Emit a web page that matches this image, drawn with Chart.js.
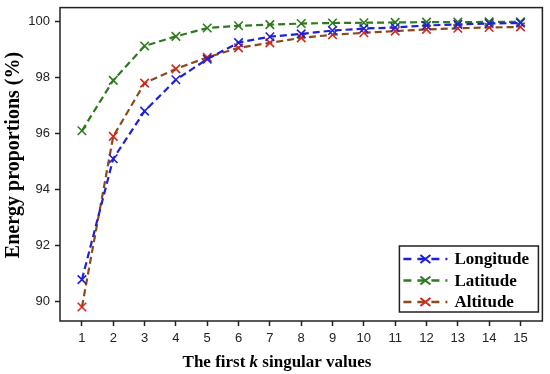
<!DOCTYPE html>
<html>
<head>
<meta charset="utf-8">
<script src="https://cdn.jsdelivr.net/npm/chart.js@4"></script>
<style>
  html, body { margin: 0; padding: 0; background: #fff; }
  #wrap { width: 550px; height: 374px; }
</style>
</head>
<body>
<div id="wrap"><canvas id="energy"></canvas></div>
<script>
var k = [1, 2, 3, 4, 5, 6, 7, 8, 9, 10, 11, 12, 13, 14, 15];

var longitude = [90.78, 95.1, 96.8, 97.92, 98.66, 99.25, 99.46, 99.56, 99.68, 99.75, 99.79, 99.86, 99.9, 99.93, 99.95];
var latitude  = [96.1, 97.9, 99.13, 99.47, 99.77, 99.85, 99.89, 99.93, 99.95, 99.96, 99.97, 99.98, 99.98, 99.99, 99.99];
var altitude  = [89.8, 95.9, 97.8, 98.31, 98.72, 99.06, 99.24, 99.42, 99.53, 99.6, 99.66, 99.72, 99.76, 99.79, 99.81];

var yTicks = [90, 92, 94, 96, 98, 100];

function pts(vals) {
  return k.map(function (x, i) { return { x: x, y: vals[i] }; });
}

var serif = "'Liberation Serif', 'Times New Roman', serif";
var sans = "'Liberation Sans', Arial, sans-serif";

// frame + axis titles + legend box drawn on top
var extras = {
  id: 'extras',
  afterDraw: function (chart) {
    var c = chart.ctx, a = chart.chartArea;
    c.save();
    c.strokeStyle = '#222';
    c.lineWidth = 1.5;
    c.strokeRect(a.left, a.top, a.right - a.left, a.bottom - a.top);

    // x title with italic k
    var parts = [['The first ', 'bold 17px ' + serif], ['k', 'italic bold 17px ' + serif], [' singular values', 'bold 17px ' + serif]];
    var w = 0;
    parts.forEach(function (p) { c.font = p[1]; w += c.measureText(p[0]).width; });
    var x = 277 - w / 2;
    c.fillStyle = '#000';
    c.textBaseline = 'middle';
    c.textAlign = 'left';
    parts.forEach(function (p) { c.font = p[1]; c.fillText(p[0], x, 363); x += c.measureText(p[0]).width; });

    // y title
    c.save();
    c.translate(14, 155);
    c.rotate(-Math.PI / 2);
    c.font = 'bold 20px ' + serif;
    c.textAlign = 'center';
    c.fillText('Energy proportions (%)', 0, 0);
    c.restore();

    // legend
    var bx = a.right - 143, by = a.bottom - 75, bw = 139, bh = 66;
    c.fillStyle = '#fff';
    c.fillRect(bx, by, bw, bh);
    c.strokeStyle = '#222';
    c.lineWidth = 1.5;
    c.strokeRect(bx, by, bw, bh);
    chart.data.datasets.forEach(function (ds, i) {
      var cy = by + 13 + i * 21.5;
      c.strokeStyle = ds.borderColor;
      c.lineWidth = 2.5;
      c.setLineDash([8, 6]);
      c.beginPath();
      c.moveTo(bx + 4, cy);
      c.lineTo(bx + 48, cy);
      c.stroke();
      c.setLineDash([]);
      c.strokeStyle = ds.pointBorderColor;
      c.lineWidth = 2;
      c.beginPath();
      c.moveTo(bx + 21, cy - 4); c.lineTo(bx + 31, cy + 4);
      c.moveTo(bx + 21, cy + 4); c.lineTo(bx + 31, cy - 4);
      c.stroke();
      c.fillStyle = '#000';
      c.font = 'bold 17px ' + serif;
      c.textAlign = 'left';
      c.textBaseline = 'middle';
      c.fillText(ds.label, bx + 55, cy + 1);
    });
    c.restore();
  }
};

function series(label, vals, line, mark) {
  return {
    label: label,
    data: pts(vals),
    borderColor: line,
    pointBorderColor: mark,
    pointBackgroundColor: mark,
    borderWidth: 2.2,
    borderDash: [7, 4],
    pointStyle: 'crossRot',
    pointRadius: 6,
    pointBorderWidth: 1.6,
    fill: false,
    tension: 0
  };
}

new Chart(document.getElementById('energy'), {
  type: 'line',
  data: {
    datasets: [
      series('Longitude', longitude, '#2020d8', '#2020d8'),
      series('Latitude', latitude, '#2e7a1e', '#2e7a1e'),
      series('Altitude', altitude, '#8b4a1c', '#d0281c')
    ]
  },
  plugins: [extras],
  options: {
    responsive: true,
    maintainAspectRatio: false,
    animation: false,
    layout: { padding: { top: 2, right: 5, left: 0, bottom: 0 } },
    plugins: { legend: { display: false }, tooltip: { enabled: false } },
    scales: {
      x: {
        type: 'linear',
        min: 0.3,
        max: 15.7,
        afterFit: function (s) { s.height = 53; s.paddingLeft = 0; s.paddingRight = 0; },
        afterBuildTicks: function (s) { s.ticks = k.map(function (v) { return { value: v }; }); },
        grid: { drawOnChartArea: false, tickLength: 5, tickColor: '#222', tickWidth: 1.5 },
        border: { display: false },
        ticks: { color: '#222', font: { family: sans, size: 13 }, padding: 5, maxRotation: 0 }
      },
      y: {
        min: 89.3,
        max: 100.5,
        afterFit: function (s) { s.width = 60; s.paddingTop = 0; s.paddingBottom = 0; },
        afterBuildTicks: function (s) { s.ticks = yTicks.map(function (v) { return { value: v }; }); },
        grid: { drawOnChartArea: false, tickLength: 5, tickColor: '#222', tickWidth: 1.5 },
        border: { display: false },
        ticks: { color: '#222', font: { family: sans, size: 13 }, padding: 5 }
      }
    }
  }
});
</script>
</body>
</html>
